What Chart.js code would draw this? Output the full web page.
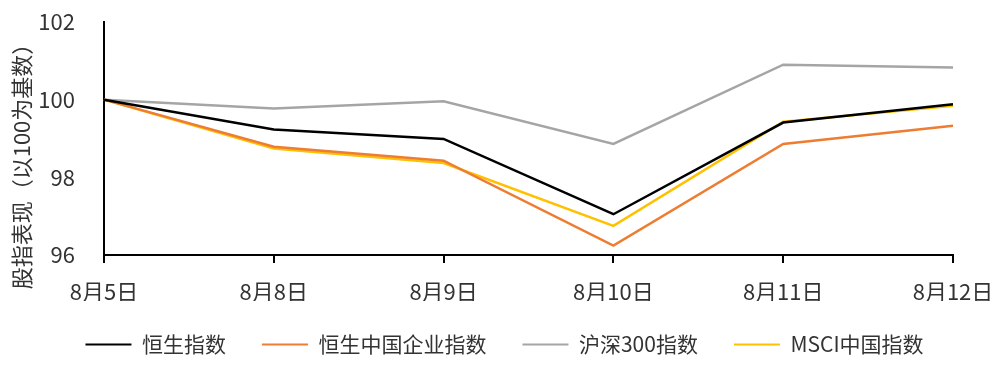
<!DOCTYPE html>
<html>
<head>
<meta charset="utf-8">
<script src="https://cdn.jsdelivr.net/npm/chart.js@4/dist/chart.umd.min.js"></script>
<style>
  html, body { margin: 0; padding: 0; background: #fff; }
  #wrap { width: 1008px; height: 368px; }
</style>
</head>
<body>
<div id="wrap"><canvas id="chart-indices"></canvas></div>
<script>
// ── Datos ──
const fechas = ['8月5日', '8月8日', '8月9日', '8月10日', '8月11日', '8月12日'];
const hengSheng = [100, 99.23, 98.99, 97.05, 99.41, 99.88];
const hsChinaEmpresas = [100, 98.79, 98.43, 96.24, 98.86, 99.33];
const csi300 = [100, 99.77, 99.96, 98.86, 100.90, 100.83];
const msciChina = [100, 98.74, 98.37, 96.75, 99.43, 99.84];
const ticksY = [96, 98, 100, 102];

const FUENTE = "'Noto Sans CJK SC', 'Noto Sans', sans-serif";

function serie(label, data, color) {
  return {
    label, data,
    borderColor: color,
    backgroundColor: color,
    borderWidth: 2.5,
    pointRadius: 0,
    tension: 0,
    fill: false,
  };
}

// Título del eje Y dibujado a mano (algo más abajo que el centro del área)
const tituloEjeY = {
  id: 'tituloEjeY',
  afterDraw(chart) {
    const ctx = chart.ctx;
    ctx.save();
    ctx.translate(22, 161);
    ctx.rotate(-Math.PI / 2);
    ctx.font = `22px ${FUENTE}`;
    ctx.fillStyle = '#333';
    ctx.textAlign = 'center';
    ctx.textBaseline = 'middle';
    ctx.fillText('股指表现（以100为基数）', 0, 0);
    ctx.restore();
  }
};

// Mover la leyenda un poco a la derecha (centrada bajo el gráfico)
const moverLeyenda = {
  id: 'moverLeyenda',
  afterLayout(chart) {
    if (!chart.legend) return;
    chart.legend.left += 28;
    chart.legend.right += 28;
    chart.legend.top -= 3;
    chart.legend.bottom -= 3;
  }
};

new Chart(document.getElementById('chart-indices').getContext('2d'), {
  type: 'line',
  data: {
    labels: fechas,
    datasets: [
      serie('恒生指数', hengSheng, '#000000'),
      serie('恒生中国企业指数', hsChinaEmpresas, '#ED7D31'),
      serie('沪深300指数', csi300, '#A5A5A5'),
      serie('MSCI中国指数', msciChina, '#FFC000'),
    ]
  },
  plugins: [tituloEjeY, moverLeyenda],
  options: {
    responsive: true,
    maintainAspectRatio: false,
    animation: false,
    layout: { padding: { top: 22, right: 55, left: 0, bottom: 0 } },
    plugins: {
      tooltip: { enabled: false },
      legend: {
        position: 'bottom',
        labels: {
          font: { family: FUENTE, size: 21 },
          color: '#333',
          boxWidth: 46,
          boxHeight: 2,
          padding: 36,
          generateLabels(chart) {
            return Chart.defaults.plugins.legend.labels.generateLabels(chart)
              .map(l => Object.assign(l, { lineWidth: 0 }));
          }
        }
      }
    },
    scales: {
      x: {
        offset: false,
        grid: { display: true, drawOnChartArea: false, drawTicks: true, tickLength: 8, color: '#000', lineWidth: 2 },
        border: { display: true, color: '#000', width: 2 },
        ticks: { font: { family: FUENTE, size: 22 }, color: '#333', padding: 15, maxRotation: 0, autoSkip: false },
        afterFit(scale) { scale.height = 46; scale.paddingLeft = 0; scale.paddingRight = 0; }
      },
      y: {
        min: 96, max: 102,
        afterBuildTicks(scale) { scale.ticks = ticksY.map(v => ({ value: v })); },
        grid: { display: false },
        border: { display: true, color: '#000', width: 2 },
        ticks: { font: { family: FUENTE, size: 22 }, color: '#333', padding: 21 },
        afterFit(scale) { scale.width = 104; scale.paddingTop = 0; scale.paddingBottom = 0; }
      }
    }
  }
});
</script>
</body>
</html>
